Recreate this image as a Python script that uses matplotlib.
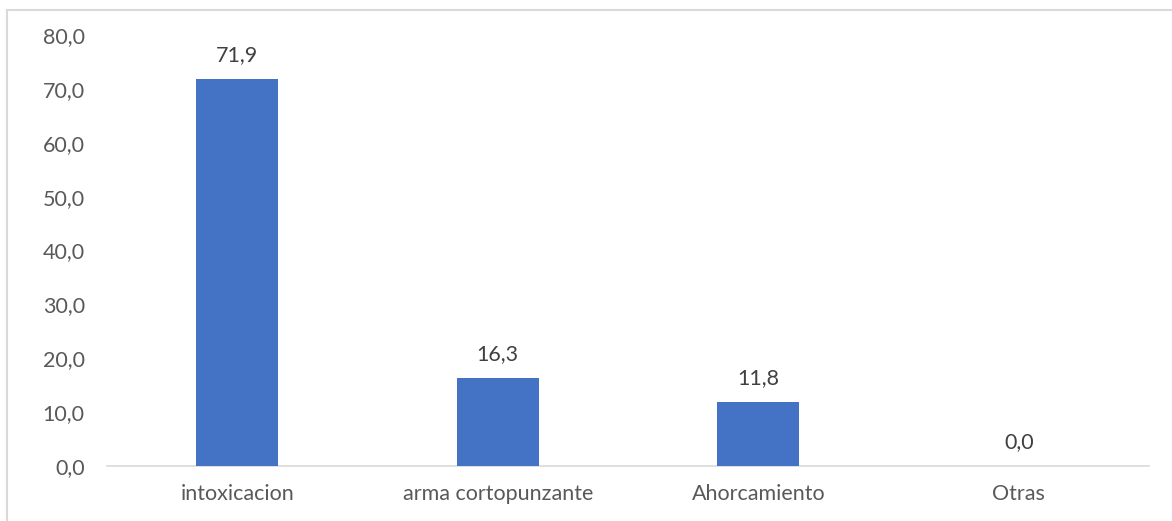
import matplotlib.pyplot as plt
from matplotlib.lines import Line2D

categories = ["intoxicacion", "arma cortopunzante", "Ahorcamiento", "Otras"]
values = [71.9, 16.3, 11.8, 0.0]
yticks = [0, 10, 20, 30, 40, 50, 60, 70, 80]

plt.rcParams['font.family'] = ['Lato', 'DejaVu Sans']

fig = plt.figure(figsize=(11.72, 5.21), dpi=100)
ax = fig.add_axes([107 / 1172, 1 - 466 / 521, 1042 / 1172, 431 / 521])

x = range(len(categories))
ax.bar(x, values, width=0.315, color="#4472C4", zorder=3)

for i, v in enumerate(values):
    ax.annotate(f"{v:.1f}".replace(".", ","), (i, v), xytext=(0, 10),
                textcoords="offset points", ha="center", va="bottom",
                fontsize=15.5, color="#404040")

ax.set_xlim(-0.5, len(categories) - 0.5)
ax.set_ylim(0, 80)
ax.set_yticks(yticks)
ax.set_yticklabels([f"{t:.1f}".replace(".", ",") for t in yticks])
ax.set_xticks(list(x))
ax.set_xticklabels(categories)
ax.tick_params(axis="both", length=0, labelsize=15.5, labelcolor="#595959")
ax.tick_params(axis="y", pad=16)
ax.tick_params(axis="x", pad=13)

for s in ["top", "right", "left"]:
    ax.spines[s].set_visible(False)
ax.spines["bottom"].set_color("#D9D9D9")
ax.spines["bottom"].set_linewidth(1.2)

# chart area border (top and left visible)
fig.add_artist(Line2D([7 / 1172, 7 / 1172], [0, 1 - 10 / 521], color="#D9D9D9", lw=1.5))
fig.add_artist(Line2D([7 / 1172, 1], [1 - 10 / 521, 1 - 10 / 521], color="#D9D9D9", lw=1.5))

fig.savefig("out.png", dpi=100)
